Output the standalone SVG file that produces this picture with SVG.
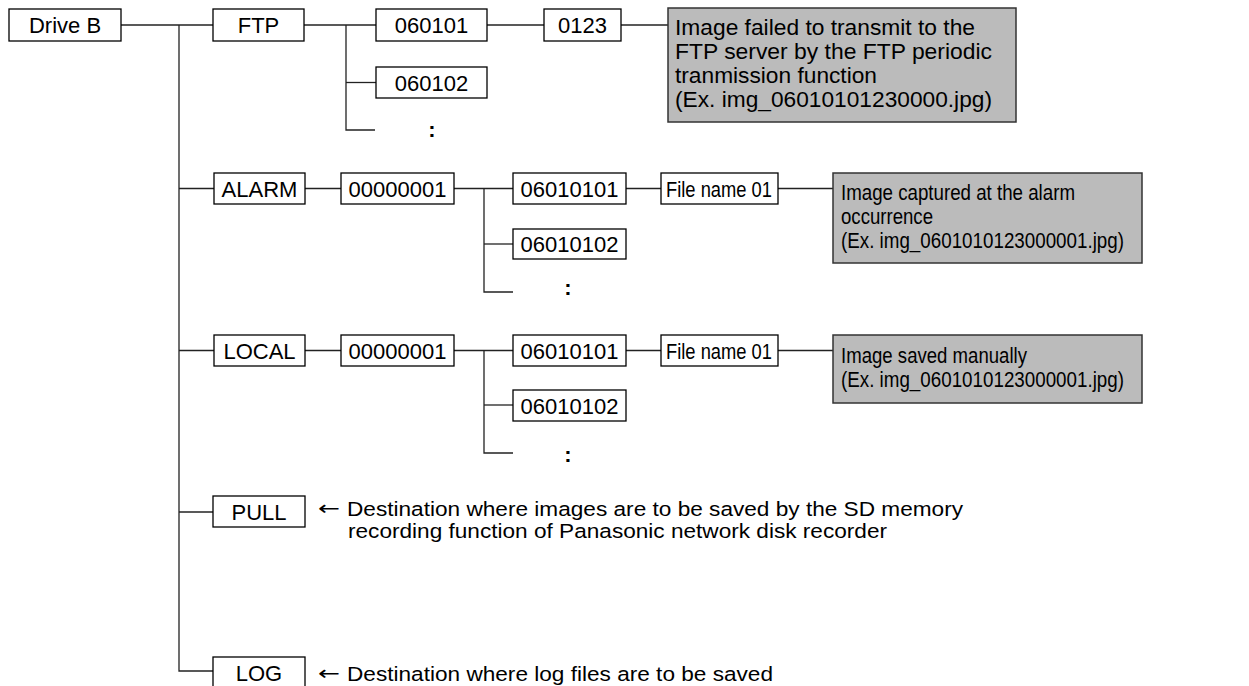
<svg xmlns="http://www.w3.org/2000/svg" width="1249" height="686" viewBox="0 0 1249 686">
<style>
text{font-family:"Liberation Sans",Arial,Helvetica,sans-serif;font-size:22px;fill:#000}
.c{text-anchor:middle}
.d{font-size:20.5px}
.arr{font-family:"DejaVu Sans",sans-serif;font-size:20px}
.box{fill:#fff;stroke:#000;stroke-width:1.3}
.note{fill:#bbb;stroke:#333;stroke-width:1.5}
.conn{fill:none;stroke:#222;stroke-width:1.3}
.dots{font-weight:bold;text-anchor:middle}
</style>
<rect width="1249" height="686" fill="#fff"/>
<g id="connectors" class="conn">
<path d="M121,25H213"/>
<path d="M179,25V671H213"/>
<path d="M179,188.5H214"/>
<path d="M179,350.5H214"/>
<path d="M179,512H213"/>
<path d="M304,25H376"/>
<path d="M346,25V130H375"/>
<path d="M346,82.5H376"/>
<path d="M487,25H544"/>
<path d="M621,25H668"/>
<path d="M305,188.5H341"/>
<path d="M454,188.5H513"/>
<path d="M484,188.5V292H513"/>
<path d="M484,244H513"/>
<path d="M626,188.5H661"/>
<path d="M778,188.5H833"/>
<path d="M305,350.5H341"/>
<path d="M454,350.5H513"/>
<path d="M484,350.5V453H513"/>
<path d="M484,405H513"/>
<path d="M626,350.5H661"/>
<path d="M778,350.5H833"/>
</g>
<g id="driveb"><rect class="box" x="9" y="9" width="112" height="32"/><text class="c" x="65" y="33">Drive B</text></g>
<g id="ftp"><rect class="box" x="213" y="9" width="91" height="32"/><text class="c" x="258.5" y="33">FTP</text></g>
<g id="ftp-060101"><rect class="box" x="376" y="9" width="111" height="32"/><text class="c" x="431.5" y="33">060101</text></g>
<g id="ftp-060102"><rect class="box" x="376" y="67" width="111" height="31"/><text class="c" x="431.5" y="90.5">060102</text></g>
<g id="ftp-more"><text class="dots" x="432" y="137">:</text></g>
<g id="ftp-0123"><rect class="box" x="544" y="9" width="77" height="32"/><text class="c" x="582.5" y="33">0123</text></g>
<g id="ftp-note"><rect class="note" x="668" y="8" width="348" height="114"/>
<text x="675" y="35" textLength="300" lengthAdjust="spacingAndGlyphs">Image failed to transmit to the</text>
<text x="675" y="59" textLength="317" lengthAdjust="spacingAndGlyphs">FTP server by the FTP periodic</text>
<text x="675" y="83" textLength="202" lengthAdjust="spacingAndGlyphs">tranmission function</text>
<text x="675" y="107" textLength="317" lengthAdjust="spacingAndGlyphs">(Ex. img_06010101230000.jpg)</text></g>

<g id="alarm"><rect class="box" x="214" y="173" width="91" height="31"/><text class="c" x="259.5" y="196.5">ALARM</text></g>
<g id="alarm-00000001"><rect class="box" x="341" y="173" width="113" height="31"/><text class="c" x="397.5" y="196.5">00000001</text></g>
<g id="alarm-06010101"><rect class="box" x="513" y="173" width="113" height="31"/><text class="c" x="569.5" y="196.5">06010101</text></g>
<g id="alarm-06010102"><rect class="box" x="513" y="229" width="113" height="30"/><text class="c" x="569.5" y="252">06010102</text></g>
<g id="alarm-more"><text class="dots" x="568" y="295">:</text></g>
<g id="alarm-file"><rect class="box" x="661" y="173" width="117" height="31"/><text x="666" y="196.5" textLength="106" lengthAdjust="spacingAndGlyphs">File name 01</text></g>
<g id="alarm-note"><rect class="note" x="833" y="173" width="309" height="90"/>
<text x="841" y="200" textLength="234" lengthAdjust="spacingAndGlyphs">Image captured at the alarm</text>
<text x="841" y="224" textLength="92" lengthAdjust="spacingAndGlyphs">occurrence</text>
<text x="841" y="248" textLength="283" lengthAdjust="spacingAndGlyphs">(Ex. img_0601010123000001.jpg)</text></g>

<g id="local"><rect class="box" x="214" y="335" width="91" height="31"/><text class="c" x="259.5" y="358.5">LOCAL</text></g>
<g id="local-00000001"><rect class="box" x="341" y="335" width="113" height="31"/><text class="c" x="397.5" y="358.5">00000001</text></g>
<g id="local-06010101"><rect class="box" x="513" y="335" width="113" height="31"/><text class="c" x="569.5" y="358.5">06010101</text></g>
<g id="local-06010102"><rect class="box" x="513" y="390" width="113" height="31"/><text class="c" x="569.5" y="413.5">06010102</text></g>
<g id="local-more"><text class="dots" x="568" y="462">:</text></g>
<g id="local-file"><rect class="box" x="661" y="335" width="117" height="31"/><text x="666" y="358.5" textLength="106" lengthAdjust="spacingAndGlyphs">File name 01</text></g>
<g id="local-note"><rect class="note" x="833" y="335" width="309" height="68"/>
<text x="841" y="363" textLength="186" lengthAdjust="spacingAndGlyphs">Image saved manually</text>
<text x="841" y="387" textLength="283" lengthAdjust="spacingAndGlyphs">(Ex. img_0601010123000001.jpg)</text></g>

<g id="pull"><rect class="box" x="213" y="496" width="92" height="31"/><text class="c" x="259" y="519.5">PULL</text>
<text class="arr" x="318" y="515" textLength="22" lengthAdjust="spacingAndGlyphs">←</text>
<text class="d" x="347" y="516" textLength="616" lengthAdjust="spacingAndGlyphs">Destination where images are to be saved by the SD memory</text>
<text class="d" x="348" y="538" textLength="539" lengthAdjust="spacingAndGlyphs">recording function of Panasonic network disk recorder</text></g>

<g id="log"><rect class="box" x="213" y="657" width="92" height="40"/><text class="c" x="259" y="681">LOG</text>
<text class="arr" x="318" y="680" textLength="22" lengthAdjust="spacingAndGlyphs">←</text>
<text class="d" x="347" y="681" textLength="426" lengthAdjust="spacingAndGlyphs">Destination where log files are to be saved</text></g>
</svg>
